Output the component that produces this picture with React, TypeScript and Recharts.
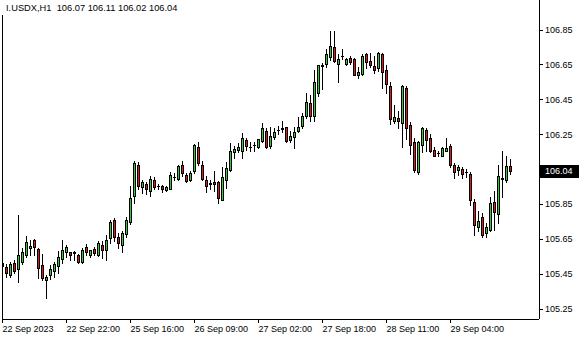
import React from 'react';
import { ComposedChart, Bar, XAxis, YAxis } from 'recharts';

const SYMBOL = 'I.USDX,H1';
const GREEN = '#32CD32';
const RED = '#DC1A1A';
const FONT = "'Liberation Sans', Arial, sans-serif";

// H1 candles, 22 Sep 2023 -> 29 Sep 2023
const opens = [
  105.511, 105.488, 105.442, 105.512, 105.478, 105.518, 105.56, 105.597, 105.645, 105.594,
  105.497, 105.413, 105.442, 105.465, 105.494, 105.535, 105.573, 105.575, 105.573, 105.56,
  105.518, 105.603, 105.56, 105.592, 105.56, 105.616, 105.583, 105.654, 105.758, 105.658,
  105.612, 105.677, 105.744, 105.895, 106.075, 105.948, 105.966, 105.924, 105.99, 105.952,
  105.952, 105.928, 105.937, 106.005, 105.994, 106.075, 106.018, 105.985, 106.037, 106.176,
  106.075, 105.99, 105.966, 105.977, 105.977, 105.873, 105.986, 106.043, 106.147, 106.16,
  106.151, 106.217, 106.176, 106.189, 106.177, 106.209, 106.27, 106.181, 106.232, 106.272,
  106.282, 106.289, 106.219, 106.232, 106.27, 106.298, 106.355, 106.431, 106.352, 106.484,
  106.639, 106.652, 106.692, 106.749, 106.654, 106.696, 106.654, 106.69, 106.682, 106.592,
  106.596, 106.709, 106.672, 106.643, 106.63, 106.709, 106.619, 106.529, 106.326, 106.341,
  106.317, 106.515, 106.302, 106.203, 106.033, 106.19, 106.273, 106.231, 106.159, 106.142,
  106.127, 106.155, 106.18, 106.074, 106.042, 106.052, 106.036, 106.023, 105.862, 105.72,
  105.774, 105.686, 105.701, 105.862, 105.793, 105.991, 105.989, 106.07,
];
const highs = [
  105.528, 105.507, 105.518, 105.531, 105.786, 105.598, 105.668, 105.645, 105.649, 105.597,
  105.564, 105.44, 105.497, 105.518, 105.579, 105.645, 105.616, 105.577, 105.579, 105.563,
  105.598, 105.62, 105.588, 105.602, 105.635, 105.635, 105.673, 105.758, 105.768, 105.683,
  105.692, 105.777, 105.952, 106.098, 106.088, 105.985, 105.977, 106.009, 106.004, 105.966,
  105.956, 105.952, 106.032, 106.028, 106.075, 106.094, 106.028, 106.041, 106.194, 106.208,
  106.094, 106.009, 105.99, 106.041, 105.981, 106.06, 106.09, 106.198, 106.185, 106.198,
  106.255, 106.227, 106.204, 106.208, 106.225, 106.314, 106.285, 106.289, 106.283, 106.298,
  106.327, 106.291, 106.266, 106.289, 106.35, 106.374, 106.487, 106.473, 106.62, 106.648,
  106.658, 106.739, 106.841, 106.841, 106.709, 106.737, 106.69, 106.696, 106.686, 106.634,
  106.709, 106.715, 106.715, 106.696, 106.721, 106.715, 106.647, 106.549, 106.42, 106.383,
  106.532, 106.525, 106.321, 106.231, 106.212, 106.292, 106.288, 106.25, 106.174, 106.155,
  106.174, 106.231, 106.193, 106.084, 106.071, 106.061, 106.048, 106.033, 105.881, 105.811,
  105.796, 105.743, 105.891, 105.923, 106.074, 106.153, 106.124, 106.11,
];
const lows = [
  105.482, 105.431, 105.431, 105.455, 105.402, 105.503, 105.545, 105.56, 105.56, 105.423,
  105.413, 105.31, 105.418, 105.433, 105.455, 105.512, 105.545, 105.526, 105.531, 105.511,
  105.512, 105.56, 105.545, 105.56, 105.55, 105.541, 105.531, 105.626, 105.635, 105.598,
  105.575, 105.663, 105.735, 105.854, 105.933, 105.914, 105.905, 105.895, 105.933, 105.937,
  105.92, 105.924, 105.933, 105.99, 105.99, 106.009, 105.977, 105.981, 106.028, 106.075,
  105.99, 105.92, 105.933, 105.924, 105.854, 105.872, 105.943, 106.037, 106.113, 106.147,
  106.113, 106.16, 106.151, 106.151, 106.173, 106.204, 106.172, 106.172, 106.223, 106.251,
  106.264, 106.204, 106.204, 106.17, 106.264, 106.283, 106.342, 106.327, 106.327, 106.469,
  106.51, 106.634, 106.677, 106.667, 106.548, 106.682, 106.645, 106.654, 106.588, 106.572,
  106.592, 106.63, 106.634, 106.601, 106.611, 106.516, 106.487, 106.311, 106.313, 106.288,
  106.178, 106.222, 106.137, 106.033, 106.023, 106.15, 106.155, 106.146, 106.123, 106.123,
  106.125, 106.152, 106.061, 105.998, 106.017, 105.998, 106.004, 105.844, 105.673, 105.692,
  105.663, 105.663, 105.692, 105.701, 105.739, 105.89, 105.978, 106.02,
];
const closes = [
  105.494, 105.455, 105.507, 105.465, 105.56, 105.575, 105.631, 105.608, 105.603, 105.484,
  105.423, 105.433, 105.478, 105.503, 105.547, 105.588, 105.602, 105.56, 105.571, 105.517,
  105.588, 105.573, 105.584, 105.569, 105.626, 105.588, 105.645, 105.745, 105.663, 105.626,
  105.683, 105.758, 105.886, 106.084, 105.952, 105.977, 105.937, 105.995, 105.947, 105.954,
  105.937, 105.948, 106.018, 106.007, 106.067, 106.028, 105.979, 106.028, 106.189, 106.084,
  105.995, 105.952, 105.968, 105.962, 105.886, 106.005, 106.056, 106.155, 106.166, 106.176,
  106.227, 106.185, 106.178, 106.191, 106.22, 106.283, 106.176, 106.238, 106.26, 106.274,
  106.283, 106.209, 106.238, 106.26, 106.289, 106.352, 106.436, 106.355, 106.55, 106.645,
  106.649, 106.709, 106.758, 106.669, 106.682, 106.698, 106.682, 106.667, 106.589, 106.607,
  106.7, 106.664, 106.645, 106.616, 106.715, 106.607, 106.538, 106.34, 106.35, 106.326,
  106.529, 106.288, 106.19, 106.042, 106.203, 106.284, 106.218, 106.152, 106.127, 106.144,
  106.169, 106.171, 106.076, 106.033, 106.061, 106.023, 106.034, 105.872, 105.73, 105.755,
  105.673, 105.715, 105.853, 105.802, 106.01, 105.998, 106.065, 106.04,
];

const timeTickIdx = [0, 16, 32, 48, 64, 80, 96, 112];
const timeTickLabels = [
  '22 Sep 2023', '22 Sep 22:00', '25 Sep 16:00', '26 Sep 09:00',
  '27 Sep 02:00', '27 Sep 18:00', '28 Sep 11:00', '29 Sep 04:00',
];
const priceTicks = [105.25, 105.45, 105.65, 105.85, 106.25, 106.45, 106.65, 106.85];

const candles = opens.map((o, i) => ({ i, open: o, high: highs[i], low: lows[i], close: closes[i] }));
const last = candles[candles.length - 1];

function Candle(props: any) {
  const { x, y, width, height, payload } = props;
  const { open, high, low, close } = payload;
  const top0 = Math.min(y, y + height);
  const h = Math.abs(height);
  const k = h / (high - low);
  const toY = (v: number) => top0 + (high - v) * k;
  const c = Math.round(x + width / 2) - 1;
  const hi = Math.round(top0);
  const lo = Math.round(top0 + h);
  const bt = Math.round(toY(Math.max(open, close)));
  const bb = Math.round(toY(Math.min(open, close)));
  return (
    <g>
      <line x1={c + 0.5} x2={c + 0.5} y1={hi} y2={lo + 1} stroke="#000" />
      {bb - bt < 1 ? (
        <line x1={c - 1} x2={c + 2} y1={bt + 0.5} y2={bt + 0.5} stroke="#000" />
      ) : (
        <rect x={c - 0.5} y={bt + 0.5} width={2} height={bb - bt} fill={close >= open ? GREEN : RED} stroke="#000" />
      )}
    </g>
  );
}

function PriceTick(props: any) {
  const { x, y, payload } = props;
  const v = payload.value;
  if (v === last.close) {
    return (
      <g>
        <rect x={x} y={Math.round(y) - 6} width={40} height={13} fill="#000" />
        <text x={x + 6} y={y + 3.5} fill="#fff" fontSize={9} fontFamily={FONT}>{v.toFixed(2)}</text>
      </g>
    );
  }
  return (
    <g>
      <line x1={x} x2={x + 4} y1={Math.round(y) + 0.5} y2={Math.round(y) + 0.5} stroke="#000" />
      <text x={x + 6} y={y + 3.5} fill="#000" fontSize={9} fontFamily={FONT}>{v.toFixed(2)}</text>
    </g>
  );
}

function TimeTick(props: any) {
  const { x, y, payload } = props;
  const label = timeTickLabels[timeTickIdx.indexOf(payload.value)];
  const cx = Math.round(x) - 0.5;
  return (
    <g>
      <line x1={cx} x2={cx} y1={y} y2={y + 4} stroke="#000" />
      <text x={cx} y={y + 13} fill="#000" fontSize={9} fontFamily={FONT} textAnchor="start">{label}</text>
    </g>
  );
}

export default function App() {
  const title = `${SYMBOL}  ${last.open.toFixed(2)} ${last.high.toFixed(2)} ${last.low.toFixed(2)} ${last.close.toFixed(2)}`;
  return (
    <div style={{ position: 'absolute', left: 0, top: 0, width: 580, height: 340, background: '#fff' }}>
      <style>{'.recharts-cartesian-axis-line{shape-rendering:crispEdges}'}</style>
      <ComposedChart width={580} height={340} data={candles} margin={{ top: 0, right: 0, left: 0, bottom: 0 }}>
        <XAxis
          dataKey="i"
          type="number"
          domain={[-0.25, 134]}
          allowDataOverflow
          ticks={timeTickIdx}
          interval={0}
          height={21}
          tickSize={0}
          tickMargin={0}
          tickLine={false}
          axisLine={{ stroke: '#000' }}
          tick={<TimeTick />}
        />
        <YAxis
          yAxisId="p"
          orientation="right"
          type="number"
          domain={[105.19, 107.02]}
          allowDataOverflow
          ticks={[...priceTicks, last.close]}
          interval={0}
          width={41}
          tickSize={0}
          tickMargin={0}
          tickLine={false}
          axisLine={{ stroke: '#000' }}
          tick={<PriceTick />}
        />
        <YAxis
          yAxisId="frame"
          orientation="left"
          width={2}
          tick={false}
          tickSize={0}
          tickLine={false}
          axisLine={{ stroke: '#000' }}
        />
        <Bar
          yAxisId="p"
          dataKey={(d: any) => [d.low, d.high]}
          barSize={3}
          isAnimationActive={false}
          shape={(p: any) => <Candle {...p} />}
        />
      </ComposedChart>
      <div
        style={{
          position: 'absolute', left: 0, top: 0, padding: '3px 4px 2px 6px', background: '#fff',
          fontFamily: FONT, fontSize: 9.3, lineHeight: '10px', whiteSpace: 'pre', color: '#000',
        }}
      >
        {title}
      </div>
    </div>
  );
}
